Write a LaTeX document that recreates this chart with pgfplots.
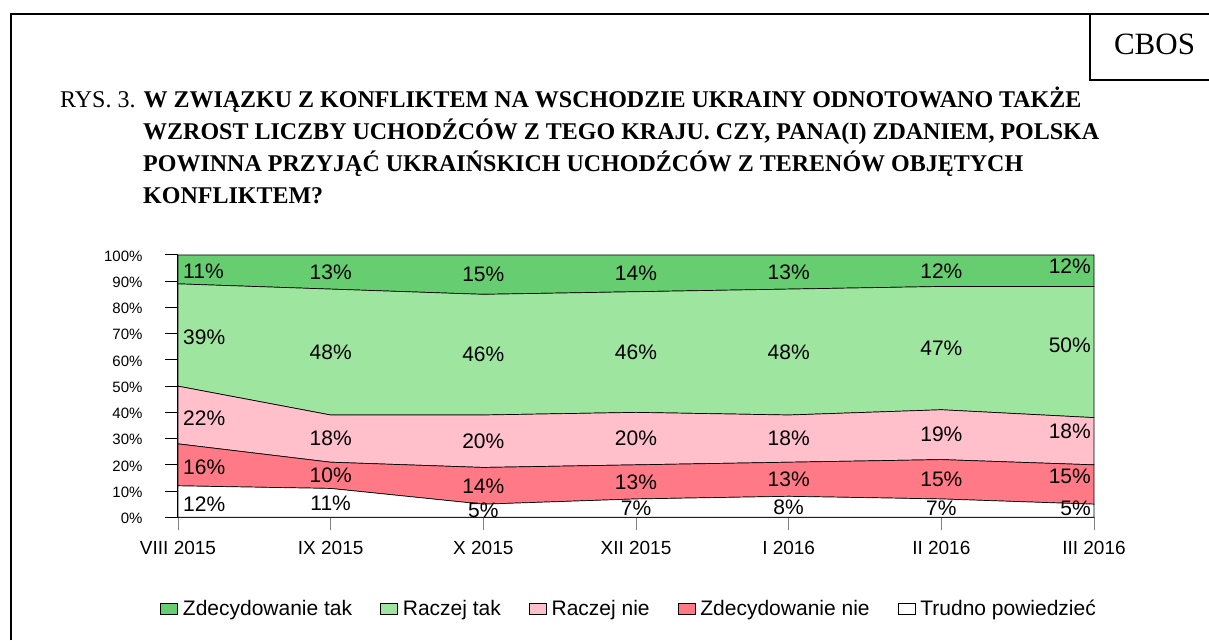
\documentclass[border=0pt]{standalone}
\usepackage{pgfplots}
\pgfplotsset{compat=1.18}
\usepackage{pgfplotstable}
\usepackage{fontspec}
\setmainfont{Liberation Sans}
\newfontfamily\timesf{Liberation Serif}

\definecolor{zt}{RGB}{102,206,112}
\definecolor{rt}{RGB}{158,230,160}
\definecolor{rn}{RGB}{255,192,204}
\definecolor{zn}{RGB}{255,122,134}
\definecolor{tp}{RGB}{255,255,255}

% shares in % (x = survey index)
\pgfplotstableread{
x y
0 12
1 11
2 5
3 7
4 8
5 7
6 5
}\tTP
\pgfplotstableread{
x y
0 16
1 10
2 14
3 13
4 13
5 15
6 15
}\tZN
\pgfplotstableread{
x y
0 22
1 18
2 20
3 20
4 18
5 19
6 18
}\tRN
\pgfplotstableread{
x y
0 39
1 48
2 46
3 46
4 48
5 47
6 50
}\tRT
\pgfplotstableread{
x y
0 11
1 13
2 15
3 14
4 13
5 12
6 12
}\tZT
% value labels: position (middle of each band) and text
\pgfplotstableread{
x y lab
0 4.9 12
0 18.9 16
0 37.9 22
0 68.7 39
0 93.7 11
}\lFirst
\pgfplotstableread{
x y lab
1 5.5 11
1 16 10
1 30 18
1 63 48
1 93.5 13
2 2.5 5
2 12 14
2 29 20
2 62 46
2 92.5 15
3 3.5 7
3 13.5 13
3 30 20
3 63 46
3 93 14
4 4 8
4 14.5 13
4 30 18
4 63 48
4 93.5 13
5 3.5 7
5 14.5 15
5 31.5 19
5 64.5 47
5 94 12
}\lMid
\pgfplotstableread{
x y lab
6 3.6 5
6 15.5 15
6 32.8 18
6 65.7 50
6 95.9 12
}\lLast

\begin{document}
\begin{tikzpicture}
\useasboundingbox (0pt,0pt) rectangle (1209pt,640pt);
% frame
\draw[line width=2pt] (11pt,0pt) -- (11pt,626pt) -- (1209pt,626pt);
\draw[line width=2pt] (1090pt,626pt) -- (1090pt,560pt) -- (1209pt,560pt);
\node[anchor=base, inner sep=0pt, font=\timesf\fontsize{31}{36}\selectfont] at (1154.5pt,585pt) {CBOS};
% title
\begin{scope}[every node/.style={anchor=base west, inner sep=0pt, font=\timesf\fontsize{24}{28}\selectfont}]
\node at (60pt,532pt) {RYS. 3. \textbf{W ZWIĄZKU Z KONFLIKTEM NA WSCHODZIE UKRAINY ODNOTOWANO TAKŻE}};
\node at (143pt,500pt) {\textbf{WZROST LICZBY UCHODŹCÓW Z TEGO KRAJU. CZY, PANA(I) ZDANIEM, POLSKA}};
\node at (143pt,468pt) {\textbf{POWINNA PRZYJĄĆ UKRAIŃSKICH UCHODŹCÓW Z TERENÓW OBJĘTYCH}};
\node at (143pt,436pt) {\textbf{KONFLIKTEM?}};
\end{scope}

\begin{axis}[
  at={(178pt,122.7pt)}, anchor=south west,
  scale only axis, width=916pt, height=262.3pt,
  xmin=0, xmax=6, ymin=0, ymax=100,
  stack plots=y, clip=false,
  axis lines*=left,
  axis line style={line width=1.2pt, black},
  xtick={0,...,6},
  xticklabels={VIII 2015, IX 2015, X 2015, XII 2015, I 2016, II 2016, III 2016},
  ytick={0,10,...,100},
  yticklabels={0\%,10\%,20\%,30\%,40\%,50\%,60\%,70\%,80\%,90\%,100\%},
  tick align=outside, major tick length=13pt,
  xtick style={draw=gray, line width=1pt},
  ytick style={draw=black, line width=1pt},
  xticklabel style={font=\fontsize{19}{22}\selectfont, yshift=-7pt},
  yticklabel style={font=\fontsize{15}{18}\selectfont, xshift=-19pt, yshift=-1pt},
  legend columns=5, reverse legend,
  legend style={draw=none, fill=none, font=\fontsize{21}{24}\selectfont,
    at={(0.4924,-0.3496)}, anchor=center,
    nodes={inner sep=2pt},
    /tikz/every odd column/.append style={column sep=3pt},
    /tikz/every even column/.append style={column sep=26pt}},
  legend cell align=left,
  legend image code/.code={\draw[#1,draw=black,line width=0.7pt] (0pt,-5.5pt) rectangle (17pt,5.5pt);},
]
\addplot[fill=tp, draw=black, line width=0.7pt] table[x=x,y=y] {\tTP} \closedcycle;
\addplot[fill=zn, draw=black, line width=0.7pt] table[x=x,y=y] {\tZN} \closedcycle;
\addplot[fill=rn, draw=black, line width=0.7pt] table[x=x,y=y] {\tRN} \closedcycle;
\addplot[fill=rt, draw=black, line width=0.7pt] table[x=x,y=y] {\tRT} \closedcycle;
\addplot[fill=zt, draw=black, line width=0.7pt] table[x=x,y=y] {\tZT} \closedcycle;
\legend{Trudno powiedzieć, Zdecydowanie nie, Raczej nie, Raczej tak, Zdecydowanie tak}
\end{axis}

\begin{axis}[
  at={(178pt,122.7pt)}, anchor=south west,
  scale only axis, width=916pt, height=262.3pt,
  xmin=0, xmax=6, ymin=0, ymax=100,
  hide axis, clip=false,
  every axis plot/.append style={draw=none, mark=none,
    nodes near coords={\pgfplotspointmeta\%},
    point meta=explicit symbolic},
  nodes near coords style={font=\fontsize{21}{24}\selectfont, inner sep=2pt},
]
\addplot[nodes near coords style={anchor=west, xshift=3pt}] table[x=x,y=y,meta=lab] {\lFirst};
\addplot[nodes near coords style={anchor=center}] table[x=x,y=y,meta=lab] {\lMid};
\addplot[nodes near coords style={anchor=east, xshift=-1pt}] table[x=x,y=y,meta=lab] {\lLast};
\end{axis}
\end{tikzpicture}
\end{document}
